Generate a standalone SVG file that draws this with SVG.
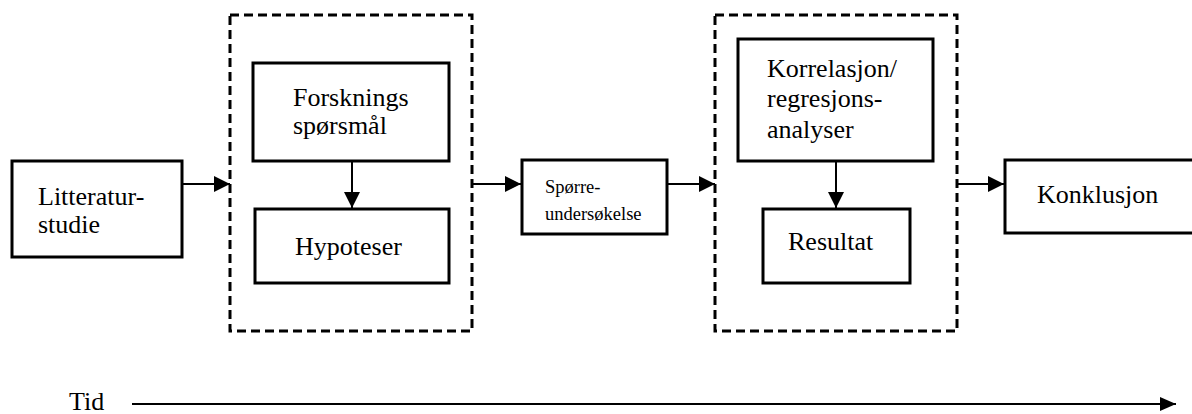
<svg xmlns="http://www.w3.org/2000/svg" width="1192" height="414" viewBox="0 0 1192 414">
<style>
.box{fill:#fff;stroke:#000;stroke-width:3}
.dash{fill:none;stroke:#000;stroke-width:3;stroke-dasharray:9 5}
.t{font-family:"Liberation Serif","Times New Roman",serif;font-size:26px;fill:#000}
.s{font-family:"Liberation Serif","Times New Roman",serif;font-size:18.5px;fill:#000}
.c{fill:none;stroke:#000;stroke-width:2}
</style>
<defs>
<marker id="ah" viewBox="0 0 16 16" refX="16" refY="8" markerWidth="16" markerHeight="16" markerUnits="userSpaceOnUse" orient="auto">
<path d="M0,0 L16,8 L0,16 Z" fill="#000"/>
</marker>
<marker id="ah2" viewBox="0 0 16 14" refX="16" refY="7" markerWidth="16" markerHeight="14" markerUnits="userSpaceOnUse" orient="auto">
<path d="M0,0 L16,7 L0,14 Z" fill="#000"/>
</marker>
</defs>
<g id="group1"><rect class="dash" x="230" y="15" width="242" height="316"/></g>
<g id="group2"><rect class="dash" x="715" y="15" width="242" height="316"/></g>
<g id="litteratur">
<rect class="box" x="12" y="161" width="170" height="96"/>
<text class="t" x="38" y="205">Litteratur-</text>
<text class="t" x="38" y="233">studie</text>
</g>
<g id="forskning">
<rect class="box" x="253" y="63" width="196" height="98"/>
<text class="t" x="293" y="106">Forsknings</text>
<text class="t" x="293" y="134">spørsmål</text>
</g>
<g id="hypoteser">
<rect class="box" x="255" y="209" width="194" height="74"/>
<text class="t" x="295" y="255">Hypoteser</text>
</g>
<g id="sporre">
<rect class="box" x="522" y="160" width="145" height="74"/>
<text class="s" x="545" y="193">Spørre-</text>
<text class="s" x="545" y="220">undersøkelse</text>
</g>
<g id="korrelasjon">
<rect class="box" x="738" y="39" width="195" height="122"/>
<text class="t" x="767" y="77">Korrelasjon/</text>
<text class="t" x="767" y="107">regresjons-</text>
<text class="t" x="767" y="138">analyser</text>
</g>
<g id="resultat">
<rect class="box" x="763" y="209" width="147" height="74"/>
<text class="t" x="788" y="250">Resultat</text>
</g>
<g id="konklusjon">
<rect class="box" x="1005" y="160" width="200" height="73"/>
<text class="t" x="1037" y="203">Konklusjon</text>
</g>
<g id="tid">
<text class="t" x="69" y="410">Tid</text>
</g>
<g id="connectors">
<line class="c" x1="183" y1="184" x2="230" y2="184" marker-end="url(#ah)"/>
<line class="c" x1="352" y1="161" x2="352" y2="208" marker-end="url(#ah)"/>
<line class="c" x1="472" y1="184" x2="521" y2="184" marker-end="url(#ah)"/>
<line class="c" x1="667" y1="184" x2="715" y2="184" marker-end="url(#ah)"/>
<line class="c" x1="836" y1="161" x2="836" y2="208" marker-end="url(#ah)"/>
<line class="c" x1="957" y1="184" x2="1004" y2="184" marker-end="url(#ah)"/>
<line class="c" x1="132" y1="404" x2="1176" y2="404" marker-end="url(#ah2)"/>
</g>
</svg>
